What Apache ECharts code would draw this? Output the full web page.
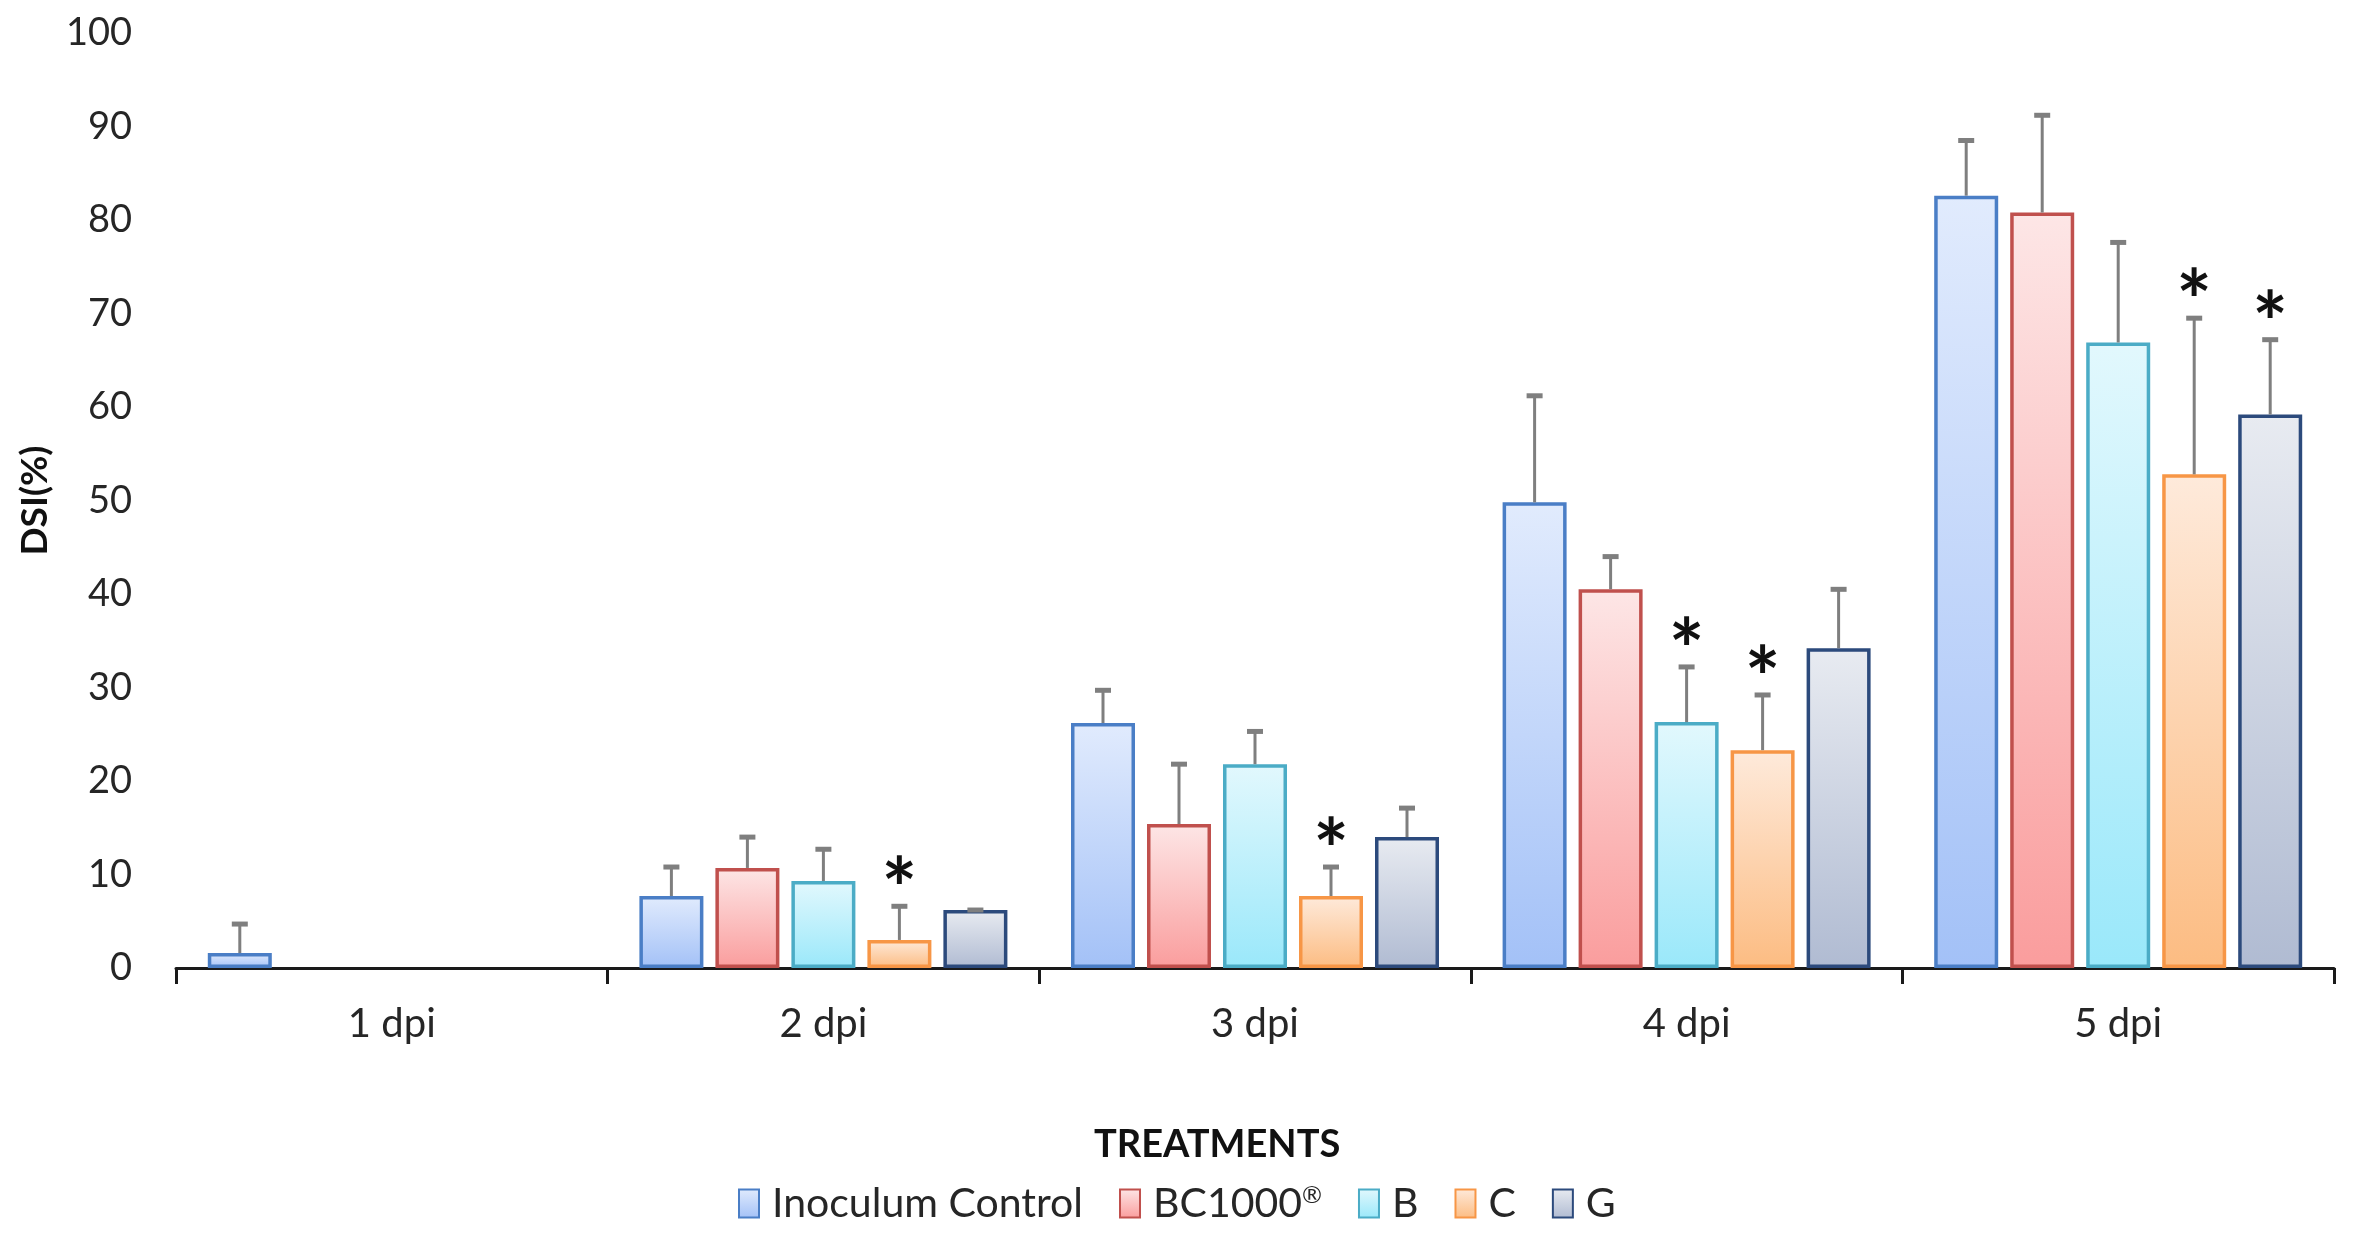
<!DOCTYPE html>
<html>
<head>
<meta charset="utf-8">
<script src="https://cdn.jsdelivr.net/npm/echarts@6/dist/echarts.min.js"></script>
<style>
html,body{margin:0;padding:0;background:#fff;}
#chart{width:2354px;height:1239px;}
</style>
</head>
<body>
<div id="chart"></div>
<script>
const categories = ['1 dpi', '2 dpi', '3 dpi', '4 dpi', '5 dpi'];
const seriesNames = ['Inoculum Control', 'BC1000®', 'B', 'C', 'G'];
const icMean = [1.6, 7.7, 26.2, 49.8, 82.6];
const icErr  = [3.1, 3.1, 3.5, 11.4, 5.9];
const bcMean = [0, 10.7, 15.4, 40.5, 80.8];
const bcErr  = [0, 3.3, 6.4, 3.5, 10.4];
const bMean  = [0, 9.3, 21.8, 26.3, 66.9];
const bErr   = [0, 3.4, 3.5, 5.9, 10.7];
const cMean  = [0, 3.0, 7.7, 23.3, 52.8];
const cErr   = [0, 3.6, 3.1, 5.9, 16.7];
const gMean  = [0, 6.2, 14.0, 34.2, 59.2];
const gErr   = [0, 0, 3.1, 6.3, 8.0];
// significance marks (1 = asterisk)
const icStar = [0, 0, 0, 0, 0];
const bcStar = [0, 0, 0, 0, 0];
const bStar  = [0, 0, 0, 1, 0];
const cStar  = [0, 1, 1, 1, 1];
const gStar  = [0, 0, 0, 0, 1];
const yTicks = [0, 10, 20, 30, 40, 50, 60, 70, 80, 90, 100];

const means = [icMean, bcMean, bMean, cMean, gMean];
const errs = [icErr, bcErr, bErr, cErr, gErr];
const stars = [icStar, bcStar, bStar, cStar, gStar];

const styles = [
  {border: '#4a7ec6', top: '#e1ebfd', bottom: '#a3c1f7'},
  {border: '#c0504d', top: '#fde6e6', bottom: '#fa9d9d'},
  {border: '#4bacc6', top: '#e2f8fd', bottom: '#9ae8fa'},
  {border: '#f79646', top: '#feeadb', bottom: '#fcbc82'},
  {border: '#2c4a7c', top: '#e8ebf1', bottom: '#b0bbd2'}
];

const BAR_W = 64, BAR_GAP = 12;
const FONT = 'Lato';

const chart = echarts.init(document.getElementById('chart'));

const series = [];
seriesNames.forEach((name, i) => {
  const st = styles[i];
  series.push({
    name: name,
    type: 'bar',
    barWidth: BAR_W,
    barGap: (BAR_GAP / BAR_W * 100) + '%',
    data: means[i].map(v => v === 0 ? null : v),
    itemStyle: {
      borderColor: st.border,
      borderWidth: 3.5,
      color: new echarts.graphic.LinearGradient(0, 0, 0, 1, [
        {offset: 0, color: st.top},
        {offset: 1, color: st.bottom}
      ])
    },
    z: 2
  });
});

// error bars + asterisks
seriesNames.forEach((name, i) => {
  const data = [];
  means[i].forEach((m, k) => {
    if (m !== 0) data.push([k, m, errs[i][k], stars[i][k]]);
  });
  const total = 5 * BAR_W + 4 * BAR_GAP;
  const off = -total / 2 + BAR_W / 2 + i * (BAR_W + BAR_GAP);
  series.push({
    type: 'custom',
    name: name + '_err',
    z: 5,
    silent: true,
    data: data,
    encode: {x: 0, y: 1},
    renderItem: function (params, api) {
      const k = api.value(0), m = api.value(1), e = api.value(2), s = api.value(3);
      const base = api.coord([k, m]);
      const topP = api.coord([k, m + e]);
      const x = base[0] + off;
      const children = [
        {type: 'line', shape: {x1: x, y1: base[1], x2: x, y2: topP[1]},
         style: {stroke: '#7f7f7f', lineWidth: 3}},
        {type: 'line', shape: {x1: x - 8, y1: topP[1], x2: x + 8, y2: topP[1]},
         style: {stroke: '#7f7f7f', lineWidth: 5}}
      ];
      if (s) {
        children.push({type: 'text', style: {
          text: '*', x: x, y: topP[1] + 28, textAlign: 'center', textVerticalAlign: 'bottom',
          font: 'bold 84px ' + FONT, fill: '#111'
        }});
      }
      return {type: 'group', children: children};
    }
  });
});

chart.setOption({
  animation: false,
  backgroundColor: '#ffffff',
  textStyle: {fontFamily: FONT},
  grid: {left: 176, right: 20, top: 33, bottom: 271, containLabel: false},
  legend: {
    data: seriesNames,
    left: 733,
    top: 1178,
    itemWidth: 20,
    itemHeight: 28,
    itemGap: 36,
    formatter: function (n) {
      return n === 'BC1000®' ? '{a|BC1000}{s|®}' : '{a|' + n + '}';
    },
    textStyle: {
      fontSize: 41, color: '#262626', fontFamily: FONT, padding: [0, 0, 0, 8],
      rich: {
        a: {fontSize: 41, color: '#262626', fontFamily: FONT},
        s: {fontSize: 24, color: '#262626', fontFamily: FONT, verticalAlign: 'top', padding: [0, 0, 14, 0]}
      }
    },
    icon: 'rect'
  },
  graphic: [{
    type: 'text',
    left: 1094,
    top: 1126,
    style: {text: 'TREATMENTS', font: 'bold 38px ' + FONT, fill: '#111'}
  }],
  xAxis: {
    type: 'category',
    data: categories,
    axisLine: {lineStyle: {color: '#1a1a1a', width: 3}},
    axisTick: {show: true, length: 16, lineStyle: {color: '#1a1a1a', width: 3}},
    axisLabel: {fontSize: 40, color: '#262626', margin: 36},
    splitLine: {show: false}
  },
  yAxis: {
    type: 'value',
    min: 0, max: 100, interval: 10,
    name: 'DSI(%)',
    nameLocation: 'middle',
    nameGap: 122,
    nameTextStyle: {fontSize: 37, fontWeight: 'bold', color: '#111'},
    axisLine: {show: false},
    axisTick: {show: false},
    splitLine: {show: false},
    axisLabel: {fontSize: 38, color: '#262626', margin: 44,
      formatter: v => yTicks.indexOf(v) >= 0 ? String(v) : ''}
  },
  series: series
});
</script>
</body>
</html>
